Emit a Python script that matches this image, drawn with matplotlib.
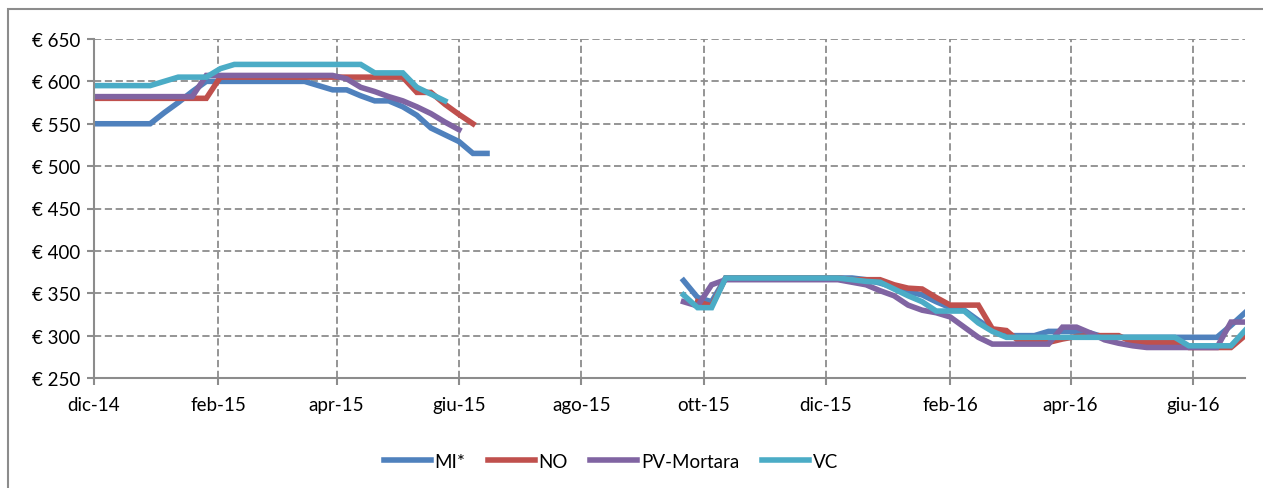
import numpy as np
import pandas as pd
import matplotlib.pyplot as plt
from matplotlib.patches import Rectangle

nan = np.nan

# weekly quotations, first Monday of Dec 2014 onward
weeks = pd.date_range('2014-12-01', periods=83, freq='7D')

gap = [nan] * 13  # summer, no quotations

MI = ([550, 550, 550, 550, 550, 563, 575, 588, 600, 600, 600, 600, 600, 600, 600, 600,
       595, 590, 590, 583, 577, 577, 570, 560, 545, 537, 529, 515, 515]
      + gap
      + [365, 345, 340, 368, 368, 368, 368, 368, 368, 368, 368, 368, 368, 366, 362, 357,
         352, 348, 340, 333, 330, 318, 307, 300, 300, 300, 305, 305, 305, 303, 298, 298,
         298, 298, 298, 298, 298, 298, 298, 312, 327])

NO = ([580, 580, 580, 580, 580, 580, 580, 580, 580, 605, 605, 605, 605, 605, 605, 605,
       605, 605, 605, 605, 605, 605, 605, 587, 587, 573, 561, 550, nan]
      + gap
      + [nan, 340, 335, 368, 368, 368, 368, 368, 368, 368, 368, 368, 366, 366, 366, 360,
         356, 355, 345, 336, 336, 336, 308, 306, 292, 292, 292, 296, 299, 300, 300, 300,
         292, 292, 292, 292, 286, 286, 286, 286, 300])

PV = ([582, 582, 582, 582, 582, 582, 582, 582, 607, 607, 607, 607, 607, 607, 607, 607,
       607, 607, 603, 593, 588, 582, 577, 570, 562, 552, 543, nan, nan]
      + gap
      + [340, 335, 360, 366, 366, 366, 366, 366, 366, 366, 366, 366, 363, 360, 353, 347,
         336, 330, 327, 322, 310, 298, 290, 290, 290, 290, 290, 310, 310, 303, 295, 291,
         288, 286, 286, 286, 286, 286, 286, 316, 316])

VC = ([595, 595, 595, 595, 595, 600, 605, 605, 605, 615, 620, 620, 620, 620, 620, 620,
       620, 620, 620, 620, 610, 610, 610, 593, 585, 577, nan, nan, nan]
      + gap
      + [348, 333, 333, 368, 368, 368, 368, 368, 368, 368, 368, 368, 366, 364, 363, 355,
         347, 340, 329, 329, 329, 315, 305, 298, 298, 298, 298, 298, 298, 298, 298, 298,
         298, 298, 298, 298, 288, 288, 288, 288, 306])

series = [('MI*', MI, '#4F81BD'), ('NO', NO, '#C0504D'),
          ('PV-Mortara', PV, '#8064A2'), ('VC', VC, '#4BACC6')]

tick_dates = pd.to_datetime(['2014-12-01', '2015-02-01', '2015-04-01', '2015-06-01',
                             '2015-08-01', '2015-10-01', '2015-12-01', '2016-02-01',
                             '2016-04-01', '2016-06-01'])
tick_labels = ['dic-14', 'feb-15', 'apr-15', 'giu-15', 'ago-15', 'ott-15', 'dic-15',
               'feb-16', 'apr-16', 'giu-16']
y_ticks = list(range(250, 651, 50))


def main():
    fig = plt.figure(figsize=(12.63, 4.89), dpi=100)
    ax = fig.add_axes([94 / 1263, 1 - 379 / 489, (1245 - 94) / 1263, 339 / 489])

    # outer chart frame (partly off the image)
    fig.patches.append(Rectangle((8 / 1263, -0.1), 1.2, 1 - 10 / 489 + 0.1,
                                 transform=fig.transFigure, fill=False,
                                 edgecolor='#8c8c8c', lw=1.5))

    for name, vals, col in series:
        ax.plot(weeks, vals, color=col, lw=4, label=name, solid_joinstyle='miter')

    ax.set_xlim(weeks[0], weeks[-1])
    ax.set_ylim(250, 650)
    ax.set_yticks(y_ticks)
    ax.set_yticklabels(['€ %d' % v for v in y_ticks])
    ax.set_xticks(tick_dates)
    ax.set_xticklabels(tick_labels)

    ax.grid(True, color='#8c8c8c', linestyle=(0, (4, 2)), lw=1.3)
    ax.set_axisbelow(True)
    for s in ['top', 'right']:
        ax.spines[s].set_visible(False)
    for s in ['left', 'bottom']:
        ax.spines[s].set_color('#8c8c8c')
        ax.spines[s].set_linewidth(1.5)
    ax.tick_params(axis='both', colors='#8c8c8c', labelcolor='black', labelsize=13.5,
                   length=5, width=1.5)
    ax.tick_params(axis='y', pad=5)
    ax.tick_params(axis='x', pad=8)

    ax.legend(loc='upper center', bbox_to_anchor=(0.449, -0.17), ncol=4, frameon=False,
              fontsize=13.5, handlelength=2.5, handletextpad=0.2, columnspacing=1.2)

    fig.savefig('out.png', dpi=100)


if __name__ == '__main__':
    plt.rcParams['font.family'] = ['Lato', 'DejaVu Sans']
    main()
